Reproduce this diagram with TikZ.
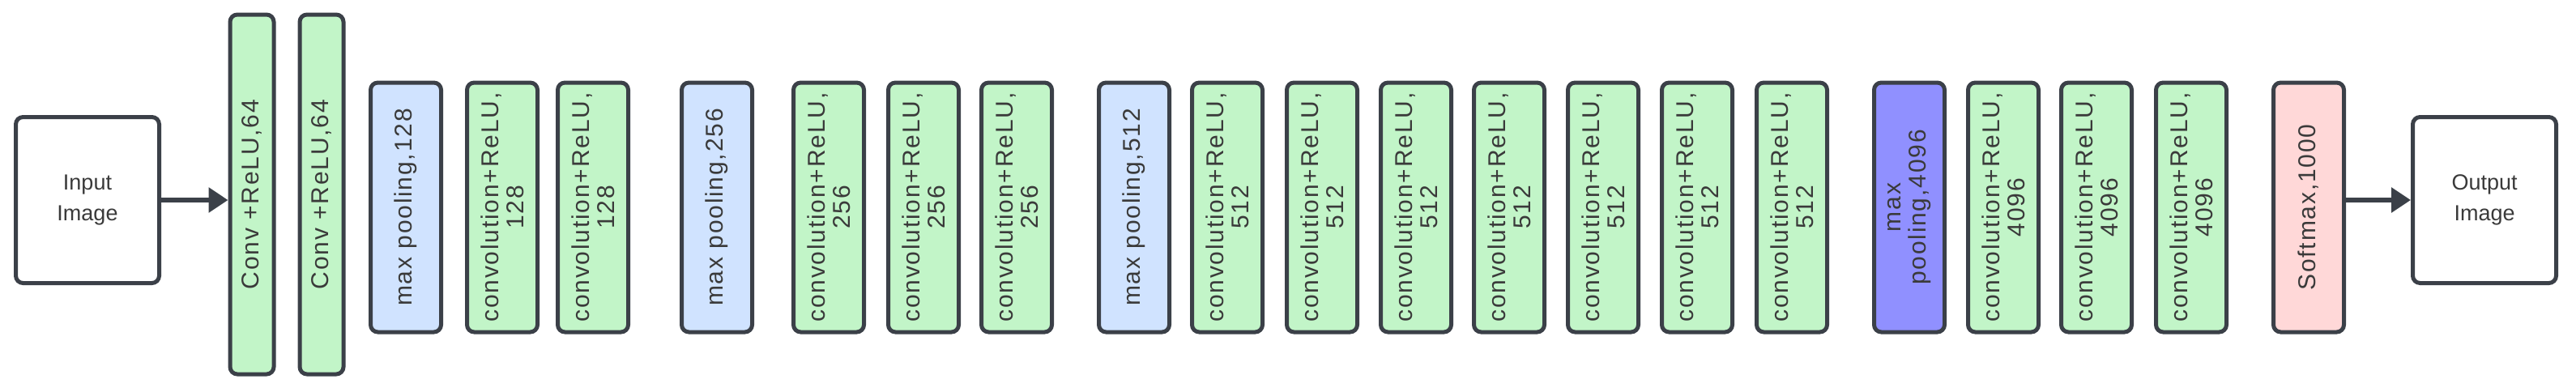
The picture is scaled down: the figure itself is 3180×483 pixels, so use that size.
\documentclass[tikz,border=0pt]{standalone}
\usepackage{fontspec}
\setmainfont{Liberation Sans}
\newfontfamily\spaced[LetterSpace=6]{Liberation Sans}
\usetikzlibrary{arrows.meta}
\definecolor{edge}{HTML}{3B4048}
\definecolor{txt}{HTML}{3A3A3A}
\definecolor{gfill}{HTML}{C2F5C8}
\definecolor{bfill}{HTML}{D0E3FF}
\definecolor{pfill}{HTML}{9090FF}
\definecolor{rfill}{HTML}{FFD8D8}
\tikzset{
  layer/.style={draw=edge, line width=5pt, rounded corners=9pt, rotate=90, inner sep=0pt,
    minimum width=308pt, minimum height=87pt, align=center, text=txt,
    font=\fontsize{30}{31}\selectfont\spaced},
  conv/.style={layer, fill=gfill},
  pool/.style={layer, fill=bfill},
  ppool/.style={layer, fill=pfill},
  soft/.style={layer, fill=rfill},
  big/.style={conv, minimum width=444pt, minimum height=54pt},
  io/.style={draw=edge, line width=5pt, rounded corners=9pt, fill=white, minimum width=177pt,
    minimum height=205pt, align=center, text=txt, font=\fontsize{27}{38}\selectfont},
  arr/.style={draw=edge, line width=6pt, -{Triangle[length=24pt,width=30pt]}}
}
\begin{document}
\begin{tikzpicture}[x=1pt,y=-1pt]
\useasboundingbox (0,0) rectangle (3180,483);
\node[io] (in) at (108,247) {Input\\Image};
\node[big] (c1) at (311,240) {Conv +ReLU,64};
\node[big] (c2) at (397,240) {Conv +ReLU,64};
\node[pool] (p1) at (501,256) {max pooling,128};
\node[conv] (c3) at (620,256) {convolution+ReLU,\\128};
\node[conv] (c4) at (732,256) {convolution+ReLU,\\128};
\node[pool] (p2) at (885,256) {max pooling,256};
\node[conv] (c5) at (1023,256) {convolution+ReLU,\\256};
\node[conv] (c6) at (1140,256) {convolution+ReLU,\\256};
\node[conv] (c7) at (1255,256) {convolution+ReLU,\\256};
\node[pool] (p3) at (1400,256) {max pooling,512};
\node[conv] (c8) at (1515,256) {convolution+ReLU,\\512};
\node[conv] (c9) at (1632,256) {convolution+ReLU,\\512};
\node[conv] (c10) at (1748,256) {convolution+ReLU,\\512};
\node[conv] (c11) at (1863,256) {convolution+ReLU,\\512};
\node[conv] (c12) at (1979,256) {convolution+ReLU,\\512};
\node[conv] (c13) at (2095,256) {convolution+ReLU,\\512};
\node[conv] (c14) at (2212,256) {convolution+ReLU,\\512};
\node[ppool] (p4) at (2357,256) {max\\pooling,4096};
\node[conv] (c15) at (2473,256) {convolution+ReLU,\\4096};
\node[conv] (c16) at (2588,256) {convolution+ReLU,\\4096};
\node[conv] (c17) at (2705,256) {convolution+ReLU,\\4096};
\node[soft] (sm) at (2850,256) {Softmax,1000};
\node[io] (out) at (3067,247) {Output\\Image};
\draw[arr] (in.east) -- (in.east -| c1.north);
\draw[arr] (sm.south |- out.west) -- (out.west);
\end{tikzpicture}
\end{document}
